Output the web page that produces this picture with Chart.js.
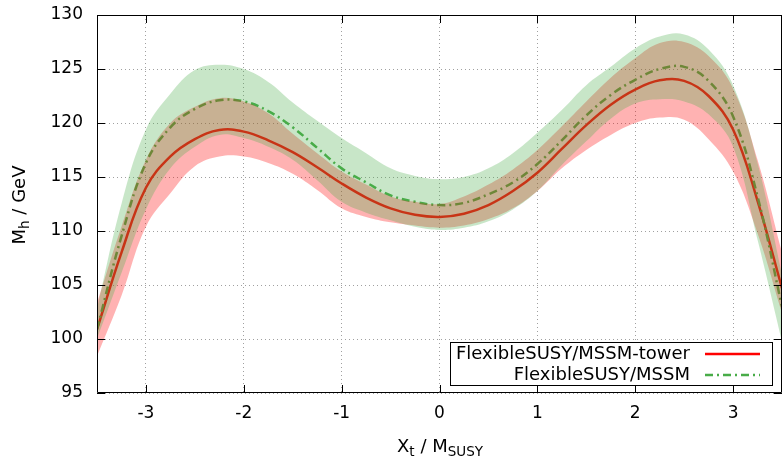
<!DOCTYPE html>
<html>
<head>
<meta charset="utf-8">
<script src="https://cdn.jsdelivr.net/npm/chart.js@4.4.0/dist/chart.umd.min.js"></script>
<style>
html, body { margin: 0; padding: 0; background: #fff; }
#wrap { width: 782px; height: 459px; position: relative; }
</style>
</head>
<body>
<div id="wrap"><canvas id="c"></canvas></div>
<script>
// Xt / MSUSY sample points
const xValues = [-3.5, -3.25, -3, -2.75, -2.5, -2.25, -2, -1.75, -1.5, -1.25, -1, -0.75, -0.5, -0.25,
  0, 0.25, 0.5, 0.75, 1, 1.25, 1.5, 1.75, 2, 2.25, 2.5, 2.75, 3, 3.25, 3.5];

// FlexibleSUSY/MSSM-tower
const towerCentral = [100.9, 108.0, 114.0, 116.9, 118.5, 119.35, 119.2, 118.4, 117.3, 115.9, 114.4, 113.1, 112.1, 111.5,
  111.3, 111.6, 112.4, 113.7, 115.4, 117.6, 119.8, 121.7, 123.1, 123.95, 123.9, 122.5, 119.4, 112.8, 104.7];
const towerUpper = [103.3, 110.4, 116.6, 120.0, 121.5, 122.3, 122.0, 120.9, 119.0, 117.2, 115.5, 114.3, 113.2, 112.7,
  112.5, 113.2, 114.3, 115.7, 117.5, 119.7, 122.0, 124.2, 126.0, 127.4, 127.5, 126.2, 123.2, 116.6, 108.0];
const towerLower = [98.4, 104.0, 110.4, 113.5, 116.0, 116.9, 116.9, 116.3, 115.3, 113.8, 112.1, 111.3, 110.8, 110.5,
  110.3, 110.5, 111.1, 112.1, 113.7, 115.8, 117.5, 118.9, 120.0, 120.5, 120.3, 118.5, 115.5, 109.8, 102.4];

// FlexibleSUSY/MSSM
const mssmCentral = [100.9, 109.5, 116.3, 119.6, 121.3, 122.1, 122.0, 121.1, 119.6, 117.7, 115.8, 114.5, 113.3, 112.7,
  112.4, 112.6, 113.4, 114.5, 116.2, 118.4, 120.7, 122.6, 124.0, 125.0, 125.2, 123.9, 120.6, 113.2, 103.0];
const mssmUpper = [102.8, 112.5, 119.4, 122.7, 124.9, 125.4, 125.0, 123.8, 121.9, 120.2, 118.6, 117.2, 115.8, 115.1,
  114.8, 115.0, 115.8, 117.2, 119.1, 121.2, 123.5, 125.2, 126.9, 128.0, 128.2, 126.8, 123.5, 116.3, 106.0];
const mssmLower = [100.0, 106.1, 112.0, 115.8, 117.8, 118.9, 118.6, 117.8, 116.6, 114.7, 112.7, 111.7, 111.0, 110.4,
  110.1, 110.3, 110.9, 112.0, 113.7, 116.1, 118.3, 120.4, 121.8, 122.2, 122.0, 120.8, 117.8, 109.2, 99.8];

const seriesLabels = ["FlexibleSUSY/MSSM-tower", "FlexibleSUSY/MSSM"];
const xTicks = [-3, -2, -1, 0, 1, 2, 3];
const yTicks = [95, 100, 105, 110, 115, 120, 125, 130];

const FONT = "'DejaVu Sans', sans-serif";
const RED = "rgb(255,0,0)";
const GREEN = "rgb(72,172,72)";

const pts = arr => xValues.map((x, i) => ({ x: x, y: arr[i] }));

// draws text made of normal/subscript pieces, centred on (0,0) of the current transform
function richText(ctx, parts, size, subSize, subDrop) {
  let w = 0;
  parts.forEach(p => {
    ctx.font = (p.sub ? subSize : size) + "px " + FONT;
    p.w = ctx.measureText(p.t).width;
    w += p.w;
  });
  let x = -w / 2;
  ctx.textBaseline = "alphabetic";
  ctx.textAlign = "left";
  parts.forEach(p => {
    ctx.font = (p.sub ? subSize : size) + "px " + FONT;
    ctx.fillText(p.t, x, p.sub ? subDrop : 0);
    x += p.w;
  });
}

const framePlugin = {
  id: "frame",
  afterDraw(chart) {
    const ctx = chart.ctx;
    const a = chart.chartArea;
    const xs = chart.scales.x, ys = chart.scales.y;
    ctx.save();
    ctx.strokeStyle = "#000";
    ctx.lineWidth = 1;
    ctx.beginPath();
    ctx.rect(a.left + 0.5, a.top + 0.5, a.right - a.left - 1, a.bottom - a.top - 1);
    const tl = 8;
    xTicks.forEach(v => {
      const px = Math.round(xs.getPixelForValue(v)) + 0.5;
      ctx.moveTo(px, a.bottom); ctx.lineTo(px, a.bottom - tl);
      ctx.moveTo(px, a.top); ctx.lineTo(px, a.top + tl);
    });
    yTicks.forEach(v => {
      const py = Math.round(ys.getPixelForValue(v)) + 0.5;
      ctx.moveTo(a.left, py); ctx.lineTo(a.left + tl, py);
      ctx.moveTo(a.right, py); ctx.lineTo(a.right - tl, py);
    });
    ctx.stroke();

    // axis titles
    ctx.fillStyle = "#000";
    ctx.save();
    ctx.translate(440, 452);
    richText(ctx, [{ t: "X" }, { t: "t", sub: true }, { t: " / M" }, { t: "SUSY", sub: true }], 18, 13.5, 4);
    ctx.restore();
    ctx.save();
    ctx.translate(25, 205);
    ctx.rotate(-Math.PI / 2);
    richText(ctx, [{ t: "M" }, { t: "h", sub: true }, { t: " / GeV" }], 18, 13.5, 4);
    ctx.restore();

    // legend box
    const bx = 450.5, by = 342.5, bw = 322, bh = 43;
    ctx.fillStyle = "#fff";
    ctx.fillRect(bx, by, bw, bh);
    ctx.strokeRect(bx, by, bw, bh);
    ctx.fillStyle = "#000";
    ctx.font = "18px " + FONT;
    ctx.textAlign = "right";
    ctx.textBaseline = "middle";
    ctx.fillText(seriesLabels[0], 690, 354);
    ctx.fillText(seriesLabels[1], 690, 375);
    ctx.lineWidth = 2.5;
    ctx.strokeStyle = RED;
    ctx.beginPath(); ctx.moveTo(705, 354); ctx.lineTo(760, 354); ctx.stroke();
    ctx.strokeStyle = GREEN;
    ctx.setLineDash([8, 4, 2, 4]);
    ctx.beginPath(); ctx.moveTo(705, 375); ctx.lineTo(760, 375); ctx.stroke();
    ctx.restore();
  }
};

const bandStyle = { pointRadius: 0, borderWidth: 0, borderColor: "transparent", tension: 0.4 };

new Chart(document.getElementById("c"), {
  type: "line",
  data: {
    datasets: [
      { label: seriesLabels[0], data: pts(towerCentral), borderColor: RED, borderWidth: 2.5, pointRadius: 0,
        fill: false, tension: 0.4, order: 5 },
      { label: seriesLabels[1], data: pts(mssmCentral), borderColor: GREEN, borderWidth: 2.5, pointRadius: 0,
        borderDash: [8, 4, 2, 4], fill: false, tension: 0.4, order: 4 },
      Object.assign({ label: "tower upper", data: pts(towerUpper), fill: "+1", backgroundColor: "rgba(255,0,0,0.3)", order: 3 }, bandStyle),
      Object.assign({ label: "tower lower", data: pts(towerLower), fill: false, order: 3 }, bandStyle),
      Object.assign({ label: "mssm upper", data: pts(mssmUpper), fill: "+1", backgroundColor: "rgba(72,172,72,0.3)", order: 2 }, bandStyle),
      Object.assign({ label: "mssm lower", data: pts(mssmLower), fill: false, order: 2 }, bandStyle)
    ]
  },
  options: {
    responsive: true,
    maintainAspectRatio: false,
    animation: false,
    layout: { padding: { top: 15, right: 0, left: 0, bottom: 0 } },
    plugins: { legend: { display: false }, tooltip: { enabled: false } },
    scales: {
      x: {
        type: "linear", min: -3.5, max: 3.5,
        afterBuildTicks: s => { s.ticks = xTicks.map(v => ({ value: v })); },
        afterFit: s => { s.height = 66; s.paddingLeft = 0; s.paddingRight = 0; },
        grid: { color: "rgb(160,160,160)", drawTicks: false, lineWidth: 1 },
        border: { display: false, dash: [1, 3] },
        ticks: { color: "#000", font: { size: 17, family: FONT }, padding: 10, maxRotation: 0 }
      },
      y: {
        type: "linear", min: 95, max: 130,
        afterBuildTicks: s => { s.ticks = yTicks.map(v => ({ value: v })); },
        afterFit: s => { s.width = 97; s.paddingTop = 0; s.paddingBottom = 0; },
        grid: { color: "rgb(160,160,160)", drawTicks: false, lineWidth: 1 },
        border: { display: false, dash: [1, 3] },
        ticks: { color: "#000", font: { size: 17, family: FONT }, padding: 14 }
      }
    }
  },
  plugins: [framePlugin]
});
</script>
</body>
</html>
